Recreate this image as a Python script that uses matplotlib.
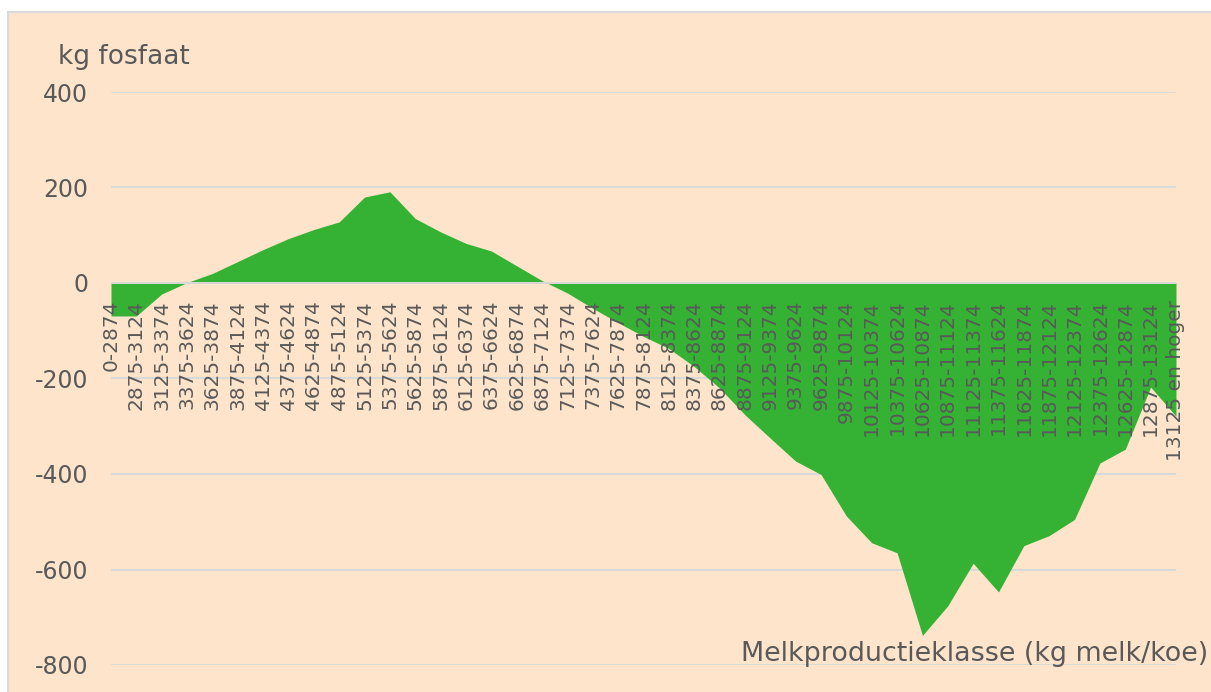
import matplotlib
matplotlib.use("Agg")
import matplotlib.pyplot as plt
from matplotlib.patches import Rectangle

# ==================================================
# DATA
# ==================================================
klassen = ["0-2874"] + [f"{s}-{s + 249}" for s in range(2875, 13125, 250)] + ["13125 en hoger"]

fosfaat = [
    -69, -69, -23, 1, 20, 45, 70, 93, 112, 128,
    180, 191, 135, 107, 83, 67, 36, 5, -21, -53,
    -83, -112, -137, -175, -220, -276, -325, -373, -401, -488,
    -544, -565, -738, -676, -587, -647, -550, -529, -495, -377,
    -348, -218, -279,
]

yticks = [-800, -600, -400, -200, 0, 200, 400]

# ==================================================
# STYLE
# ==================================================
W, H = 1211, 692
bg = "#FDE4CB"
groen = "#35B234"
grijs = "#595959"
lijn = "#D9D9D9"

fig = plt.figure(figsize=(W / 100, H / 100), dpi=100)
fig.patch.set_facecolor("white")

# achtergrond + rand van de grafiek
fig.patches.append(Rectangle((8 / W, -0.05), 1.1, (H - 12) / H + 0.05,
                             transform=fig.transFigure, facecolor=bg,
                             edgecolor=lijn, linewidth=1.5, zorder=-1))

ax = fig.add_axes([111 / W, 1 - 665 / H, (1176 - 111) / W, (665 - 92) / H])
ax.set_facecolor("none")
ax.set_zorder(1)

x = list(range(len(klassen)))
ax.fill_between(x, fosfaat, 0, color=groen, linewidth=0, zorder=1)

ax.set_xlim(0, len(klassen) - 1)
ax.set_ylim(-800, 400)
ax.set_yticks(yticks)
ax.set_yticklabels([str(v) for v in yticks])
ax.tick_params(axis="y", length=0, pad=16.5, labelsize=17, labelcolor=grijs)
ax.set_xticks([])

for s in ax.spines.values():
    s.set_visible(False)

for v in yticks:
    if v != 0:
        ax.axhline(v, color=lijn, linewidth=1.4, zorder=0.5)
ax.axhline(0, color=lijn, linewidth=1.4, zorder=3)

# categorie labels net onder de nul-lijn
for i, lab in enumerate(klassen):
    ax.annotate(lab, xy=(i, 0), xytext=(0, -17), textcoords="offset pixels",
                rotation=90, ha="center", va="top", fontsize=14.5,
                color=grijs, zorder=4, annotation_clip=False)

fig.text(58 / W, 1 - 57 / H, "kg fosfaat", ha="left", va="center",
         fontsize=19, color=grijs)
fig.text(1208 / W, 1 - 654 / H, "Melkproductieklasse (kg melk/koe)",
         ha="right", va="center", fontsize=19.4, color=grijs)

fig.savefig("out.png", dpi=100, facecolor=fig.get_facecolor())
